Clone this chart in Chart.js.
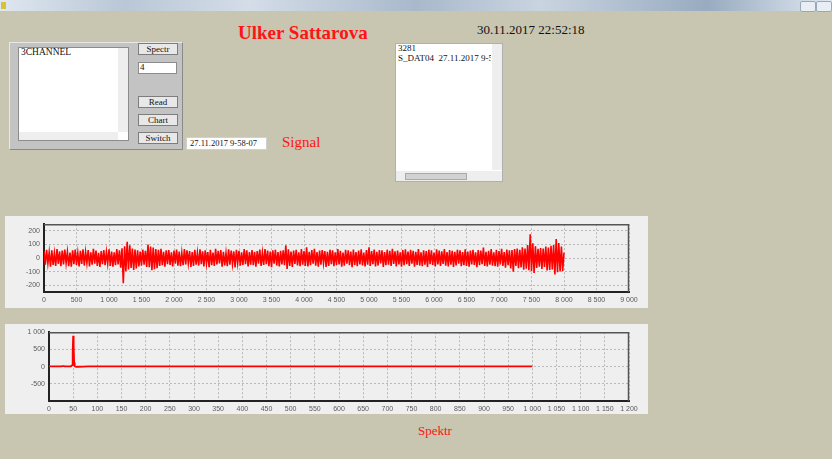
<!DOCTYPE html>
<html>
<head>
<meta charset="utf-8">
<script src="https://cdn.jsdelivr.net/npm/chart.js@4.4.1/dist/chart.umd.min.js"></script>
<style>
  html,body{margin:0;padding:0;}
  body{width:832px;height:459px;background:#c8c5b1;position:relative;overflow:hidden;font-family:"Liberation Serif",serif;}
  .abs{position:absolute;}
  .titlebar{left:0;top:0;width:832px;height:11px;background:linear-gradient(to right,#dfe7f0 0%,#b9c7d6 15%,#d4dde8 30%,#a9b9cb 50%,#c9d4e0 65%,#98abc0 85%,#dfe7f0 100%);}
  .icon{left:1px;top:2px;width:5px;height:7px;background:#d8c23a;}
  .capbtn{top:1px;width:14px;height:9px;background:#e9eef4;border:1px solid #9aa8b8;border-radius:2px;}
  .panel{background:#c3c3c3;border:1px solid #e8e8e8;border-right-color:#8a8a8a;border-bottom-color:#8a8a8a;box-sizing:border-box;}
  .white{background:#fff;border:1px solid #8c8c8c;box-sizing:border-box;}
  .btn{background:#e8e8e8;border:1px solid #7d7d7d;box-sizing:border-box;font-size:9px;text-align:center;line-height:10px;color:#111;}
  .sb{background:#eeeeee;}
  .txt{white-space:nowrap;color:#111;}
  .red{color:#ff1414;}
  .chartbox{background:#efefef;}
</style>
</head>
<body>
<div class="abs titlebar"></div>
<div class="abs icon"></div>
<div class="abs capbtn" style="left:800px"></div>
<div class="abs capbtn" style="left:816px"></div>

<div class="abs txt red" style="left:238px;top:22px;font-size:19px;font-weight:bold;">Ulker Sattarova</div>
<div class="abs txt" style="left:477px;top:22px;font-size:13px;">30.11.2017 22:52:18</div>

<div class="abs panel" style="left:9px;top:42px;width:174px;height:108px;"></div>
<div class="abs white" style="left:18px;top:47px;width:111px;height:94px;"></div>
<div class="abs sb" style="left:118px;top:48px;width:10px;height:84px;"></div>
<div class="abs sb" style="left:19px;top:132px;width:99px;height:8px;"></div>
<div class="abs txt" style="left:21px;top:47px;font-size:9.5px;">3CHANNEL</div>

<div class="abs btn" style="left:138px;top:43px;width:40px;height:12px;">Spectr</div>
<div class="abs white" style="left:138px;top:62px;width:39px;height:12px;"></div>
<div class="abs txt" style="left:140px;top:62px;font-size:9px;">4</div>
<div class="abs btn" style="left:138px;top:96px;width:40px;height:12px;">Read</div>
<div class="abs btn" style="left:138px;top:114px;width:40px;height:12px;">Chart</div>
<div class="abs btn" style="left:138px;top:132px;width:40px;height:12px;">Switch</div>

<div class="abs white" style="left:186px;top:137px;width:81px;height:13px;border-color:#d0d0d0;"></div>
<div class="abs txt" style="left:190px;top:138px;font-size:8.5px;">27.11.2017 9-58-07</div>
<div class="abs txt red" style="left:282px;top:134px;font-size:15px;">Signal</div>

<div class="abs white" style="left:395px;top:43px;width:108px;height:139px;border-color:#b0b0b0;"></div>
<div class="abs sb" style="left:492px;top:44px;width:10px;height:126px;"></div>
<div class="abs sb" style="left:396px;top:171px;width:106px;height:10px;"></div>
<div class="abs" style="left:405px;top:173px;width:60px;height:5px;background:#d2d2d2;border:1px solid #aaa;"></div>
<div class="abs txt" style="left:398px;top:43px;font-size:9px;">3281</div>
<div class="abs txt" style="left:398px;top:53px;font-size:9px;width:93px;overflow:hidden;">S_DAT04&nbsp;&nbsp;27.11.2017 9-58</div>

<div class="abs chartbox" style="left:5px;top:216px;width:643px;height:92px;"><canvas id="c1" width="643" height="92"></canvas></div>
<div class="abs chartbox" style="left:5px;top:324px;width:643px;height:90px;"><canvas id="c2" width="643" height="90"></canvas></div>

<div class="abs txt red" style="left:418px;top:423px;font-size:13px;">Spektr</div>

<script>
// ---- Signal (sample index step 20) ----
const signalValues = [
52,-48,61,-39,44,-63,58,-51,37,-57,66,-42,49,-60,55,-46,63,-38,47,-59,
41,-64,57,-45,62,-50,38,-61,53,-43,65,-55,46,-37,59,-62,43,-49,68,-41,
56,-58,39,-66,51,-44,60,-53,45,-40,64,-57,48,-63,42,-52,67,-47,58,-70,
72,-185,88,-96,120,-84,95,-72,70,-88,63,-76,58,-61,49,-55,62,-48,54,-66,
100,-68,86,-90,78,-82,66,-74,61,-58,69,-52,47,-64,57,-45,60,-50,43,-62,
55,-41,63,-56,48,-60,39,-53,66,-47,58,-38,51,-65,44,-57,61,-49,40,-55,
64,-44,50,-61,57,-39,45,-67,62,-52,41,-58,68,-46,53,-40,59,-63,47,-54,
38,-60,65,-48,56,-43,49,-69,61,-37,54,-56,42,-51,67,-45,58,-62,44,-49,
60,-53,46,-64,52,-41,63,-57,40,-50,66,-44,55,-59,48,-67,57,-42,62,-55,
45,-61,53,-47,58,-52,95,-80,64,-58,49,-66,56,-43,61,-54,42,-60,67,-48,
51,-57,80,-62,47,-53,59,-41,68,-56,44,-63,55,-49,60,-38,52,-65,46,-58,
62,-45,57,-60,43,-51,66,-47,54,-64,40,-56,61,-42,58,-53,48,-67,63,-50,
44,-59,56,-46,65,-54,41,-62,59,-48,80,-57,52,-44,63,-61,47,-55,60,-40,
57,-66,45,-52,62,-49,53,-58,68,-43,50,-61,56,-47,42,-64,59,-53,65,-45,
48,-57,61,-42,54,-63,46,-50,66,-55,43,-60,58,-48,52,-65,62,-44,57,-51,
41,-62,64,-47,55,-58,50,-43,67,-56,45,-61,59,-49,53,-66,47,-54,62,-41,
58,-60,44,-52,65,-57,49,-63,56,-46,61,-50,42,-67,60,-53,55,-45,78,-58,
47,-62,53,-48,66,-56,43,-59,61,-64,52,-46,68,-57,45,-70,63,-52,58,-76,
60,-100,66,-58,71,-75,62,-68,80,-85,70,-78,96,-90,175,-96,110,-110,88,-72,
68,-64,74,-80,70,-66,85,-92,78,-88,90,-84,96,-120,140,-105,112,-98,86,-94,
40
];
const signalStep = 20;
const signalXTicks = [0,500,1000,1500,2000,2500,3000,3500,4000,4500,5000,5500,6000,6500,7000,7500,8000,8500,9000];
const signalYTicks = [-200,-100,0,100,200];

// ---- Spectrum ----
const spectrumFreq = [0,10,20,25,28,30,33,40,45,48,49,50,51,52,53,56,60,70,80,100,150,200,300,400,500,600,700,800,900,1000];
const spectrumAmp  = [5,5,6,8,14,12,6,4,6,40,420,895,610,120,20,-8,-4,2,4,5,5,4,5,5,4,5,5,4,5,5];
const spectrumXTicks = [0,50,100,150,200,250,300,350,400,450,500,550,600,650,700,750,800,850,900,950,1000,1050,1100,1150,1200];
const spectrumYTicks = [-1000,-500,0,500,1000];

function fmt(v){ return String(v).replace(/\B(?=(\d{3})+(?!\d))/g,' '); }

const frame = {
  id:'frame',
  afterDraw(chart){
    const a = chart.chartArea, c = chart.ctx;
    c.save();
    c.strokeStyle = '#555';
    c.lineWidth = 1.5;
    c.beginPath();
    c.moveTo(a.left, a.top+0.5); c.lineTo(a.right-0.5, a.top+0.5); c.lineTo(a.right-0.5, a.bottom);
    c.stroke();
    c.restore();
  }
};

const tickFont = {family:'"Liberation Sans", Arial, sans-serif', size:7};

function makeScales(opts){
  return {
    x:{
      type:'linear', min:opts.xmin, max:opts.xmax,
      afterBuildTicks:(ax)=>{ ax.ticks = opts.xticks.map(v=>({value:v})); },
      afterFit:(ax)=>{ ax.height = opts.xh; },
      ticks:{ autoSkip:false, maxRotation:0, minRotation:0, color:'#5a5a5a', font:tickFont, padding:4, callback:(v)=>fmt(v) },
      grid:{ color:'#b9b9b9', lineWidth:1, drawTicks:false },
      border:{ display:true, color:'#222', width:2, dash:[2,2] }
    },
    y:{
      type:'linear', min:opts.ymin, max:opts.ymax,
      afterBuildTicks:(ax)=>{ ax.ticks = opts.yticks.map(v=>({value:v})); },
      afterFit:(ax)=>{ ax.width = opts.yw; },
      ticks:{ autoSkip:false, color:'#5a5a5a', font:tickFont, padding:4, callback:(v)=> (opts.hide && opts.hide.includes(v)) ? '' : fmt(v) },
      grid:{ color:'#b9b9b9', lineWidth:1, drawTicks:false },
      border:{ display:true, color:'#222', width:2, dash:[2,2] }
    }
  };
}

new Chart(document.getElementById('c1'), {
  type:'line',
  data:{ datasets:[{
    data: signalValues.map((v,i)=>({x:i*signalStep, y:v})),
    borderColor:'#ff0000', borderWidth:1.6, pointRadius:0, tension:0, fill:false
  }]},
  options:{
    responsive:false, animation:false, events:[],
    layout:{ padding:{ top:4, right:19, left:0, bottom:0 } },
    plugins:{ legend:{display:false}, tooltip:{enabled:false} },
    scales: makeScales({xmin:0,xmax:9000,xticks:signalXTicks,xh:16,ymin:-250,ymax:250,yticks:signalYTicks,yw:39})
  },
  plugins:[frame]
});

new Chart(document.getElementById('c2'), {
  type:'line',
  data:{ datasets:[{
    data: spectrumFreq.map((f,i)=>({x:f, y:spectrumAmp[i]})),
    borderColor:'#ff0000', borderWidth:1.8, pointRadius:0, tension:0, fill:false
  }]},
  options:{
    responsive:false, animation:false, events:[],
    layout:{ padding:{ top:4, right:19, left:0, bottom:0 } },
    plugins:{ legend:{display:false}, tooltip:{enabled:false} },
    scales: makeScales({xmin:0,xmax:1200,xticks:spectrumXTicks,xh:13,ymin:-1000,ymax:1000,yticks:spectrumYTicks,yw:44,hide:[-1000]})
  },
  plugins:[frame]
});
</script>
</body>
</html>
